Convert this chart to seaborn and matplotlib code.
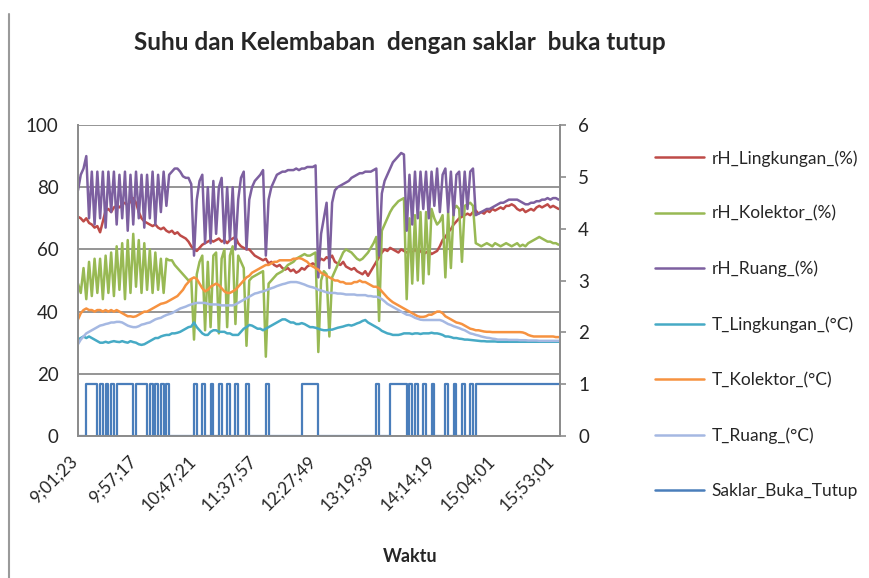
import numpy as np
import pandas as pd
import seaborn as sns
import matplotlib.pyplot as plt
from matplotlib.lines import Line2D
from matplotlib.transforms import ScaledTranslation

# --- data (one value per sample) ---
time_labels = ['9;01;23', '9;57;17', '10;47;21', '11;37;57', '12;27;49',
               '13;19;39', '14;14;19', '15;04;01', '15;53;01']
label_step = 21.6  # samples between labelled categories

rh_lingkungan = [
    70.5, 70, 69, 70, 68.5, 68, 67, 67.5, 65.5, 69,
    72.5, 73, 72, 73.5, 74, 73.5, 74.5, 75, 74, 75.5,
    76.5, 75, 72, 70, 69, 68.5, 68, 67.5, 68, 67,
    66.5, 67, 66, 65.5, 66, 65, 65.5, 64.5, 64, 63.5,
    62.5, 61, 60, 59.5, 60.5, 61.5, 62, 62.5, 63, 62.5,
    63, 63.5, 62.5, 63, 62, 63, 63.5, 64, 62, 61,
    60.5, 60, 60, 59, 58, 57.5, 57, 56.5, 57, 55.5,
    56, 55, 54.5, 55, 54, 53.5, 54, 53, 53.5, 52.5,
    53, 54, 53.5, 54.5, 55, 55.5, 55, 56, 57, 56.5,
    57.5, 57, 58, 56, 55.5, 55, 56, 54.5, 54, 53.5,
    54, 53, 52.5, 52, 53, 51.5, 53, 54.5, 56, 57.5,
    59, 60, 59.5, 60.5, 60, 59.5, 59, 60, 59.5, 59,
    59.5, 59, 60, 59, 59.5, 58.5, 59, 59.5, 58.5, 59,
    59.5, 61, 63, 64, 65.5, 66.5, 68, 69, 70, 70.5,
    71, 71.5, 71, 72, 72.5, 71.5, 72, 71.5, 72.5, 72,
    73, 72.5, 73, 73.5, 73, 74, 74, 74.5, 74, 73,
    72.5, 73, 72, 72.5, 73, 72.5, 73.5, 74, 73.5, 74,
    74.5, 73.5, 74, 73.5, 73]

rh_kolektor = [
    49, 46, 54, 44, 56, 45, 57, 46, 57, 44,
    58, 46, 59, 45, 61, 47, 62, 44, 63, 46,
    65, 48, 63, 46, 62, 47, 60, 46, 59, 47,
    57, 46, 57, 56.5, 56.5, 55, 54, 53, 52, 51,
    50, 50.5, 31, 52, 56, 58, 34, 56, 35, 58,
    59, 33, 57, 60, 35, 58, 61, 36, 58, 56,
    54, 29, 50, 51, 51.5, 52, 52.5, 53, 25.5, 49,
    50, 51, 52, 52.5, 53, 54, 55, 55.5, 56, 57,
    57.5, 58, 58.5, 58, 58, 58.5, 59, 27, 50, 53,
    52, 32, 51, 53, 55, 57, 59, 60, 59.5, 59,
    58, 57, 56.5, 57, 58, 59, 60.5, 62, 64, 37,
    66, 68, 70, 72, 73.5, 74.5, 75.5, 76, 76.5, 44,
    70, 49, 71, 50, 72, 49, 72, 52, 73, 70,
    68, 69, 71, 51, 72, 54, 73, 74, 73, 56,
    74, 74.5, 75, 74, 62, 61.5, 61, 61.5, 62, 61.5,
    61, 62, 61.5, 61, 61.5, 62, 61.5, 61, 61.5, 62,
    61, 61.5, 61, 62, 62.5, 63, 63.5, 64, 63.5, 63,
    62.5, 62.5, 62, 62, 61.5]

rh_ruang = [
    79, 84, 86, 90, 70, 85, 68, 85, 70, 85,
    67, 85, 72, 85, 68, 84, 70, 85, 66, 84,
    68, 85, 70, 84, 67, 84, 70, 85, 68, 84,
    72, 85, 74, 84, 85, 86, 86, 85, 83.5, 83,
    83, 81, 58, 76, 82, 84, 62, 80, 62, 82,
    65, 80, 83, 62, 80, 63, 80, 60, 76, 83,
    85, 60, 76, 80, 82, 83, 84, 85.5, 58, 76,
    80, 82, 84, 84.5, 85, 85, 85.5, 85.5, 85.5, 86,
    85.5, 86, 86, 86.5, 86.5, 86.5, 87, 51, 65, 70,
    75, 54, 75, 79, 80, 80.5, 81, 81.5, 82, 83,
    83.5, 84, 84.5, 84.5, 85, 85, 85, 85.5, 86, 58,
    78, 82, 84, 86, 88, 89, 90, 91, 90.5, 66,
    84, 68, 85, 70, 85, 73, 85, 70, 85, 74,
    86, 72, 84, 86, 72, 85, 71, 84, 85, 71,
    85, 73, 85, 86, 71, 71.5, 72, 72.5, 73, 73,
    73.5, 74, 74.5, 75, 75, 75.5, 76, 76, 76, 76,
    75.5, 75, 74.5, 74.5, 75, 75, 75.5, 75.5, 76, 76,
    76.5, 76, 76.5, 76.5, 76]

t_lingkungan = [
    31, 31.5, 32, 31.5, 32, 31.5, 31, 30.5, 30, 30,
    30.3, 30, 30.3, 30.5, 30.3, 30.2, 30.5, 30.2, 30, 30.5,
    30.2, 30, 29.5, 29.3, 29.5, 30, 30.5, 31, 31.5, 31.5,
    32, 32.3, 32.5, 32.5, 33, 33, 33.2, 33.5, 34, 34.5,
    35, 35.2, 36.5, 35, 34, 33, 32.5, 32.5, 33.5, 34,
    34, 33.5, 33.5, 33.5, 33, 33, 32.5, 32.5, 32.5, 33.5,
    34.5, 35, 35.7, 35.5, 35, 34.5, 34.5, 34, 34.5, 35,
    35.5, 36, 36.5, 37, 37.5, 37.5, 37, 36.5, 36.5, 36,
    36, 36.3, 36, 35.5, 35, 35, 34.8, 34.5, 34.2, 34,
    34, 34.2, 34.2, 34.5, 34.8, 35, 35.2, 35.5, 35.7, 35.5,
    35.8, 36.2, 36.5, 37, 37.3, 36.5, 36, 35.5, 35, 34.5,
    33.8, 33.4, 33, 32.8, 32.5, 32.5, 32.5, 32.7, 33, 33,
    33, 32.8, 33, 33, 32.8, 33, 33, 33, 33.2, 33,
    33, 32.8, 32.5, 32, 32, 31.8, 31.5, 31.5, 31.3, 31.2,
    31, 31, 30.9, 30.8, 30.7, 30.6, 30.5, 30.5, 30.4, 30.4,
    30.4, 30.4, 30.3, 30.3, 30.3, 30.3, 30.3, 30.3, 30.3, 30.3,
    30.3, 30.3, 30.3, 30.3, 30.3, 30.3, 30.3, 30.3, 30.3, 30.3,
    30.3, 30.3, 30.3, 30.3, 30.3]

t_kolektor = [
    37.5, 39.5, 40.5, 41, 40.5, 40.5, 40, 40.5, 40.5, 40,
    40.5, 40, 40.5, 40, 40.5, 40, 39.5, 39, 38.5, 38.5,
    38.3, 38.5, 39, 39.5, 40, 40, 40.5, 41, 41.5, 42,
    42.5, 42.7, 43, 43.5, 44, 44.5, 45, 46, 47, 48.5,
    49.5, 50.5, 51, 50.5, 49, 47.5, 46.5, 47, 48, 48.5,
    49, 48.5, 47.5, 46.5, 46, 46, 46.5, 47, 48, 49,
    50, 51, 51.5, 52.5, 53, 53.5, 54, 54.5, 55, 55,
    55.5, 56, 56, 56.5, 56.5, 56.5, 56.5, 56.5, 57, 57,
    57.2, 57, 56.5, 56, 55, 54.5, 54, 53.5, 52.5, 52,
    51.5, 51, 50.5, 50, 50, 49.5, 49.5, 49, 49, 49,
    49.5, 49.5, 50, 49.5, 49.5, 49, 48.5, 48, 48, 47.5,
    46.5, 45.5, 44.5, 43.7, 43, 42.5, 42, 41.5, 41, 40.5,
    40, 39.5, 39, 38.5, 38.3, 38.3, 38.5, 39, 39, 39.5,
    40, 40, 39.5, 38.5, 38, 37.5, 37, 36.5, 36.3, 36,
    35.5, 35, 34.5, 34.3, 34, 34, 33.8, 33.6, 33.5, 33.5,
    33.4, 33.4, 33.4, 33.4, 33.4, 33.4, 33.4, 33.4, 33.4, 33.4,
    33.4, 33.3, 33, 32.5, 32.2, 32, 32, 32, 32, 32,
    32, 32, 32, 31.8, 31.8]

t_ruang = [
    29.5, 31, 32, 33, 33.5, 34, 34.5, 35, 35.5, 35.7,
    36, 36.2, 36.5, 36.5, 36.7, 36.7, 36.5, 36, 35.5, 35.2,
    35, 35, 35.3, 35.8, 36, 36.3, 36.5, 37, 37.5, 37.8,
    38, 38.5, 38.9, 39.2, 39.5, 40, 40.5, 41, 41.3, 41.6,
    42, 42.3, 42.6, 42.8, 42.8, 42.8, 42.8, 42.5, 42.3, 42.3,
    42.3, 42.2, 42, 42, 42, 42, 42, 42.3, 42.8, 43.3,
    43.8, 44.3, 44.8, 45.3, 45.8, 46, 46.3, 46.5, 46.8, 47.2,
    47.5, 47.8, 48.2, 48.5, 48.8, 49, 49.3, 49.5, 49.5, 49.5,
    49.3, 49, 48.7, 48.3, 48, 47.8, 47.5, 47, 46.8, 46.5,
    46.2, 46, 46, 46, 45.8, 45.8, 45.7, 45.5, 45.5, 45.5,
    45.5, 45.3, 45.3, 45.3, 45.3, 45, 45, 44.8, 44.8, 44.5,
    44, 43.3, 42.5, 42, 41.5, 41, 40.5, 40, 39.5, 39,
    38.9, 38.5, 38, 37.7, 37.4, 37.3, 37.3, 37.3, 37.3, 37.3,
    37.3, 37.3, 37, 36.5, 36, 35.7, 35.3, 35, 34.7, 34.3,
    34, 33.5, 33, 32.8, 32.5, 32.3, 32, 31.8, 31.6, 31.5,
    31.3, 31.2, 31, 31, 31, 31, 30.9, 30.9, 30.9, 30.9,
    30.8, 30.8, 30.8, 30.7, 30.7, 30.7, 30.7, 30.6, 30.6, 30.6,
    30.6, 30.6, 30.6, 30.6, 30.6]

saklar = [
    0, 0, 0, 1, 1, 1, 1, 0, 1, 0,
    1, 0, 1, 0, 1, 1, 1, 1, 1, 1,
    0, 1, 1, 1, 1, 0, 1, 0, 1, 0,
    1, 0, 1, 0, 0, 0, 0, 0, 0, 0,
    0, 0, 1, 0, 0, 1, 0, 0, 1, 0,
    0, 1, 0, 0, 1, 0, 0, 1, 0, 0,
    0, 1, 0, 0, 0, 0, 0, 0, 1, 0,
    0, 0, 0, 0, 0, 0, 0, 0, 0, 0,
    0, 1, 1, 1, 1, 1, 1, 0, 0, 0,
    0, 0, 0, 0, 0, 0, 0, 0, 0, 0,
    0, 0, 0, 0, 0, 0, 0, 0, 1, 0,
    0, 0, 0, 1, 1, 1, 1, 1, 1, 0,
    1, 0, 1, 0, 0, 1, 0, 0, 1, 0,
    0, 0, 0, 1, 0, 0, 1, 0, 0, 1,
    0, 0, 1, 0, 1, 1, 1, 1, 1, 1,
    1, 1, 1, 1, 1, 1, 1, 1, 1, 1,
    1, 1, 1, 1, 1, 1, 1, 1, 1, 1,
    1, 1, 1, 1, 1]

names = ['rH_Lingkungan_(%)', 'rH_Kolektor_(%)', 'rH_Ruang_(%)',
         'T_Lingkungan_(°C)', 'T_Kolektor_(°C)', 'T_Ruang_(°C)']
colors = ['#BE4B48', '#98B954', '#7D60A0', '#46AAC5', '#F69240', '#A5B8E2']
saklar_name = 'Saklar_Buka_Tutup'
saklar_color = '#4A7EBB'

# long-form frame for seaborn
left_series = [rh_lingkungan, rh_kolektor, rh_ruang, t_lingkungan, t_kolektor, t_ruang]
frames = []
for name, vals in zip(names, left_series):
    frames.append(pd.DataFrame({'idx': np.arange(len(vals)), 'value': vals, 'series': name}))
df = pd.concat(frames, ignore_index=True)
df_sw = pd.DataFrame({'idx': np.arange(len(saklar)), 'value': saklar})

# --- plot ---
sns.set_style('white')
plt.rcParams['font.family'] = ['Lato', 'DejaVu Sans']

fig = plt.figure(figsize=(8.69, 5.78), dpi=100)
ax = fig.add_axes([78 / 869, 1 - 436 / 578, (560 - 78) / 869, (436 - 125) / 578])

sns.lineplot(data=df, x='idx', y='value', hue='series', hue_order=names,
             palette=dict(zip(names, colors)), linewidth=1.8, legend=False, ax=ax)

ax2 = ax.twinx()
sns.lineplot(data=df_sw, x='idx', y='value', color=saklar_color, linewidth=1.6,
             drawstyle='steps-post', ax=ax2)

grid_c = '#8C8C8C'
ax.set_xlim(0, 174.5)
ax.set_ylim(0, 100)
ax.set_yticks(range(0, 101, 20))
ax2.set_ylim(0, 6)
ax2.set_yticks(range(0, 7))
ax.yaxis.grid(True, color=grid_c, linewidth=1.3)
ax.xaxis.grid(False)
ax.set_axisbelow(True)

ax.tick_params(axis='x', length=0, pad=8, labelsize=12.5)
ax.tick_params(axis='y', length=0, pad=14, labelsize=13.5)
ax2.tick_params(axis='y', length=4, width=1.2, color=grid_c, pad=9, labelsize=13.5)

ax.set_xticks(np.arange(len(time_labels)) * label_step)
ax.set_xticklabels(time_labels, rotation=45, ha='right', rotation_mode='anchor')
# nudge the slanted labels left/down like the spreadsheet layout
shift = ScaledTranslation(-0.09, -0.06, fig.dpi_scale_trans)
for lbl in ax.get_xticklabels():
    lbl.set_transform(lbl.get_transform() + shift)
ax.set_xlabel('')
ax.set_ylabel('')
ax2.set_ylabel('')

for a in (ax, ax2):
    a.spines['top'].set_visible(False)
    for side in ('left', 'bottom', 'right'):
        a.spines[side].set_color(grid_c)
        a.spines[side].set_linewidth(1.3)

# legend
handles = [Line2D([], [], color=c, linewidth=1.8) for c in colors]
handles.append(Line2D([], [], color=saklar_color, linewidth=1.8))
fig.legend(handles, names + [saklar_name], loc='upper left',
           bbox_to_anchor=(655 / 869, 1 - 150 / 578), frameon=False,
           fontsize=12.5, handlelength=2.8, handletextpad=0.45,
           labelspacing=2.25, borderpad=0, borderaxespad=0)

fig.text(400 / 869, 1 - 42 / 578, 'Suhu dan Kelembaban  dengan saklar  buka tutup',
         ha='center', va='center', fontsize=17.5, fontweight='bold')
fig.text(410 / 869, 1 - 557 / 578, 'Waktu', ha='center', va='center',
         fontsize=13, fontweight='bold')

# chart-area border on the left
fig.add_artist(Line2D([9 / 869, 9 / 869], [0, 1 - 14 / 578], transform=fig.transFigure,
                      color='#9A9A9A', linewidth=1.5))

fig.savefig('out.png', dpi=100)
